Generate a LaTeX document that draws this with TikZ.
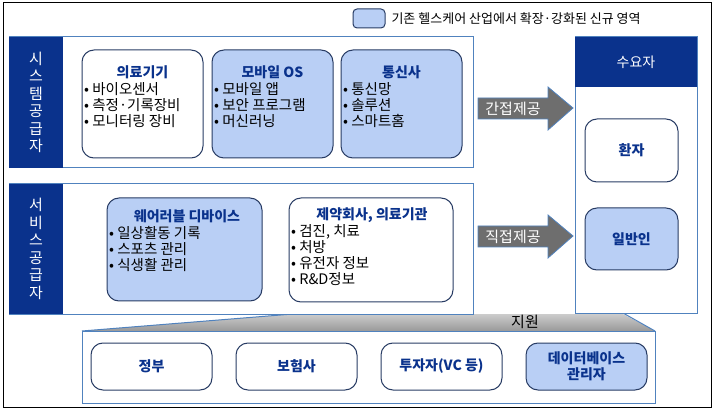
\documentclass[tikz,border=0pt]{standalone}
\usepackage{fontspec}
\setmainfont{Noto Sans CJK KR}
\usetikzlibrary{shapes.arrows}
\definecolor{navy}{RGB}{10,50,140}
\definecolor{lb}{RGB}{185,207,245}
\definecolor{bd}{RGB}{40,60,100}
\definecolor{pb}{RGB}{80,130,190}
\definecolor{ag}{RGB}{110,110,110}
\tikzset{
 pix/.style={x=1pt,y=-1pt},
 ibox/.style={draw=bd,line width=1pt,rounded corners=12pt,fill=white},
 nbox/.style={ibox,fill=lb},
 panel/.style={draw=pb,line width=1pt,fill=white},
 bar/.style={fill=navy,draw=none},
 vtxt/.style={text=white,font=\fontsize{15}{17.5}\selectfont,align=center},
 ttl/.style={text=navy,font=\bfseries\fontsize{14}{16}\selectfont},
 itm/.style={font=\fontsize{14.5}{16}\selectfont,align=left,anchor=north west,inner sep=1pt},
 arr/.style={fill=ag,draw=pb,line width=0.8pt},
 atxt/.style={text=white,font=\fontsize{15}{17}\selectfont},
}
\begin{document}
\begin{tikzpicture}[pix]
\useasboundingbox (0,0) rectangle (714,411);
\draw[line width=1pt] (3,3) rectangle (711,407);
% legend
\draw[nbox,rounded corners=4pt] (353,9) rectangle (385,28);
\node[anchor=west,font=\fontsize{13}{15}\selectfont] (leg) at (388,18.5) {기존 헬스케어 산업에서 확장·강화된 신규 영역};
% bottom band
\shade[top color=gray!40,bottom color=gray!80] (82,331) -- (293,314) -- (623,314) -- (655,331) -- cycle;
\draw[pb,line width=1pt] (82,331) -- (293,314);
\draw[pb,line width=1pt] (623,313) -- (655,331);
\node[font=\fontsize{15}{17}\selectfont] (jw) at (525,322) {지원};
\draw[panel] (82,331) rectangle (655,403);
% top panel
\draw[panel] (9,37) rectangle (473,168);
\fill[bar] (9,37) rectangle (63,168);
\node[vtxt] (sys) at (36,102.5) {시\\스\\템\\공\\급\\자};
% service panel
\draw[panel] (9,184) rectangle (473,314);
\fill[bar] (9,184) rectangle (63,314);
\node[vtxt] (svc) at (36,249) {서\\비\\스\\공\\급\\자};
% top boxes
\draw[ibox] (82,50) rectangle (203,158);
\node[ttl] (t1) at (142.5,72) {의료기기};
\node[itm] (i1) at (83,81) {• 바이오센서\\• 측정·기록장비\\• 모니터링 장비};
\draw[nbox] (212,50) rectangle (333,158);
\node[ttl] (t2) at (272.5,72) {모바일 OS};
\node[itm] (i2) at (213,81) {• 모바일 앱\\• 보안 프로그램\\• 머신러닝};
\draw[nbox] (341,50) rectangle (462,158);
\node[ttl] (t3) at (401.5,72) {통신사};
\node[itm] (i3) at (342,81) {• 통신망\\• 솔루션\\• 스마트홈};
% service boxes
\draw[nbox] (107,198) rectangle (262,301);
\node[ttl] (t4) at (187,216) {웨어러블 디바이스};
\node[itm] (i4) at (108,225) {• 일상활동 기록\\• 스포츠 관리\\• 식생활 관리};
\draw[ibox] (289,198) rectangle (453,302);
\node[ttl] (t5) at (372,215) {제약회사, 의료기관};
\node[itm] (i5) at (290,223) {• 검진, 치료\\• 처방\\• 유전자 정보\\• R\&D정보};
% demand column
\draw[panel] (575,37) rectangle (697,313);
\fill[bar] (575,37) rectangle (697,87);
\node[text=white,font=\fontsize{14}{16}\selectfont] (dm) at (636,62) {수요자};
\draw[ibox] (585,119) rectangle (678,182);
\node[ttl] (p1) at (631.5,150.5) {환자};
\draw[nbox] (585,208) rectangle (678,270);
\node[ttl] (p2) at (631.5,239) {일반인};
% arrows
\draw[arr] (478,98) -- (548,98) -- (548,87) -- (573,108) -- (548,130) -- (548,119) -- (478,119) -- cycle;
\node[atxt] (a1) at (513,108.5) {간접제공};
\draw[arr] (478,226) -- (548,226) -- (548,215) -- (573,236) -- (548,258) -- (548,247) -- (478,247) -- cycle;
\node[atxt] (a2) at (513,236.5) {직접제공};
% bottom boxes
\draw[ibox] (91,343) rectangle (212,390);
\node[ttl] (b1) at (151.5,366.5) {정부};
\draw[ibox] (236,343) rectangle (357,390);
\node[ttl] (b2) at (296.5,366.5) {보험사};
\draw[ibox] (381,343) rectangle (502,390);
\node[ttl] (b3) at (441.5,366.5) {투자자(VC 등)};
\draw[nbox] (526,343) rectangle (647,390);
\node[ttl,align=center,font=\bfseries\fontsize{14}{16}\selectfont] (b4) at (586.5,366.5) {데이터베이스\\관리자};
\end{tikzpicture}
\end{document}
